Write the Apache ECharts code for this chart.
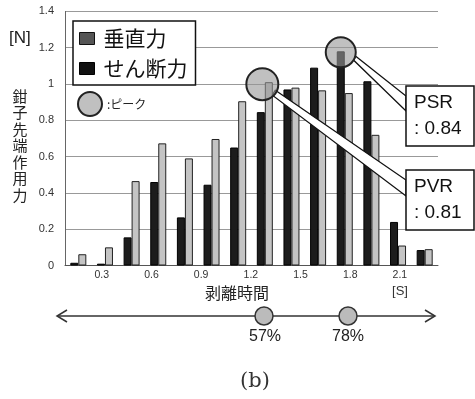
<!DOCTYPE html>
<html>
<head>
<meta charset="utf-8">
<script src="https://cdn.jsdelivr.net/npm/echarts@6/dist/echarts.min.js"></script>
<style>
  html, body { margin: 0; padding: 0; background: #fff; }
  #chart { width: 475px; height: 399px; }
</style>
</head>
<body>
<div id="chart"></div>
<script>
// Time bins (s) of the peeling phase
const bins = ['0.15','0.30','0.45','0.60','0.75','0.90','1.05','1.20','1.35','1.50','1.65','1.80','1.95','2.10'];
// Shear force (dark bars) [N]
const shearForce = [0.015, 0.01, 0.155, 0.46, 0.265, 0.445, 0.65, 0.845, 0.97, 1.09, 1.18, 1.015, 0.24, 0.085];
// Vertical force (light bars) [N]
const verticalForce = [0.062, 0.10, 0.465, 0.673, 0.59, 0.697, 0.905, 1.01, 0.98, 0.965, 0.95, 0.72, 0.11, 0.09];
// Time tick labels [s]
const timeTicks = [0.3, 0.6, 0.9, 1.2, 1.5, 1.8, 2.1];
// Peak ratios
const peakLabels = ['PSR\n: 0.84', 'PVR\n: 0.81'];
const peakPercents = ['57%', '78%'];

const JP = '"Noto Sans CJK JP", "Noto Sans", sans-serif';
const LAT = '"Liberation Sans", Arial, sans-serif';

const chart = echarts.init(document.getElementById('chart'), null, { renderer: 'canvas' });

chart.setOption({
  backgroundColor: '#fff',
  animation: false,
  grid: { left: 65, right: 37, top: 11.4, bottom: 133.5, containLabel: false },
  legend: {
    orient: 'vertical',
    left: 73, top: 21,
    backgroundColor: '#fff',
    borderColor: '#111', borderWidth: 1.5, borderRadius: 0,
    padding: [5, 8, 4, 6],
    itemGap: 5,
    itemWidth: 15, itemHeight: 12,
    icon: 'rect',
    textStyle: { fontFamily: JP, fontSize: 21, color: '#111', lineHeight: 25, padding: [0, 0, 0, 4] },
    data: [
      { name: '垂直力', itemStyle: { color: '#555', borderColor: '#111', borderWidth: 1 } },
      { name: 'せん断力', itemStyle: { color: '#111', borderColor: '#000', borderWidth: 1 } }
    ]
  },
  xAxis: [
    {
      type: 'category',
      data: bins,
      axisLine: { show: true, lineStyle: { color: '#555', width: 1 } },
      axisTick: { show: false },
      axisLabel: { show: false },
      splitLine: { show: false }
    },
    {
      type: 'value',
      position: 'bottom',
      min: 0.078, max: 2.33,
      axisLine: { show: false },
      axisTick: { show: false },
      splitLine: { show: false },
      axisLabel: {
        customValues: timeTicks,
        formatter: v => v.toFixed(1),
        fontFamily: LAT, fontSize: 10.5, color: '#333', margin: 4
      }
    }
  ],
  yAxis: {
    type: 'value',
    min: 0, max: 1.4, interval: 0.2,
    axisLine: { show: true, lineStyle: { color: '#666', width: 1 } },
    axisTick: { show: false },
    axisLabel: { fontFamily: LAT, fontSize: 11, color: '#333', margin: 11 },
    splitLine: { lineStyle: { color: '#999', width: 1 } }
  },
  series: [
    {
      name: 'せん断力', type: 'bar', xAxisIndex: 0,
      data: shearForce,
      barWidth: 8, barGap: '0%',
      itemStyle: { color: '#1c1c1c', borderColor: '#000', borderWidth: 1 }
    },
    {
      name: '垂直力', type: 'bar', xAxisIndex: 0,
      data: verticalForce,
      barWidth: 8, barGap: '0%',
      itemStyle: { color: '#c4c4c4', borderColor: '#222', borderWidth: 1 }
    }
  ]
});

// Peak markers positioned from the data
const argmax = arr => arr.reduce((b, v, i) => (v > arr[b] ? i : b), 0);
const iS = argmax(shearForce);
const iV = argmax(verticalForce);
const pS = chart.convertToPixel({ xAxisIndex: 0, yAxisIndex: 0 }, [iS, shearForce[iS]]);
const pV = chart.convertToPixel({ xAxisIndex: 0, yAxisIndex: 0 }, [iV, verticalForce[iV]]);
const cS = [pS[0] - 4, pS[1] + 1];
const cV = [pV[0] - 2.5, pV[1] + 2];

const circleStyle = { fill: 'rgba(150,150,150,0.6)', stroke: '#222', lineWidth: 2 };
const wedgeStyle = { fill: '#fff', stroke: '#111', lineWidth: 1.3 };
const boxStyle = { fill: '#fff', stroke: '#111', lineWidth: 1.5 };
const boxText = { fill: '#111', fontFamily: LAT, fontSize: 19, lineHeight: 26 };

const graphics = [
  // axis titles and units
  { type: 'text', left: 9, top: 30, style: { text: '[N]', fill: '#222', fontFamily: LAT, fontSize: 17 } },
  { type: 'text', x: 20, y: 88, style: { text: '鉗\n子\n先\n端\n作\n用\n力', fill: '#222', fontFamily: JP, fontSize: 15, lineHeight: 16.5, align: 'center', verticalAlign: 'top' } },
  { type: 'text', x: 237, y: 293, style: { text: '剥離時間', fill: '#222', fontFamily: JP, fontSize: 16, align: 'center', verticalAlign: 'middle' } },
  { type: 'text', x: 400, y: 291, style: { text: '[S]', fill: '#333', fontFamily: LAT, fontSize: 13, align: 'center', verticalAlign: 'middle' } },

  // peak legend entry
  { type: 'circle', shape: { cx: 90, cy: 104, r: 12 }, style: circleStyle },
  { type: 'text', x: 107, y: 104, style: { text: ':ピーク', fill: '#222', fontFamily: JP, fontSize: 12, verticalAlign: 'middle' } },

  // callout wedges
  { type: 'polygon', shape: { points: [[cS[0] + 15, cS[1] + 4], [406, 96], [406, 111], [cS[0] + 13, cS[1] + 8]] }, style: wedgeStyle, z: 10 },
  { type: 'polygon', shape: { points: [[cV[0] + 13, cV[1] + 6], [406, 180], [406, 196], [cV[0] + 10, cV[1] + 11]] }, style: wedgeStyle, z: 10 },

  // peak circles
  { type: 'circle', shape: { cx: cS[0], cy: cS[1], r: 15 }, style: circleStyle, z: 11 },
  { type: 'circle', shape: { cx: cV[0], cy: cV[1], r: 16 }, style: circleStyle, z: 11 },

  // callout boxes
  { type: 'rect', shape: { x: 406, y: 86, width: 68, height: 60 }, style: boxStyle, z: 12 },
  { type: 'text', x: 414, y: 116, style: Object.assign({ text: peakLabels[0], verticalAlign: 'middle' }, boxText), z: 13 },
  { type: 'rect', shape: { x: 406, y: 170, width: 68, height: 60 }, style: boxStyle, z: 12 },
  { type: 'text', x: 414, y: 200, style: Object.assign({ text: peakLabels[1], verticalAlign: 'middle' }, boxText), z: 13 },

  // timeline with double arrow
  { type: 'line', shape: { x1: 57, y1: 316, x2: 435, y2: 316 }, style: { stroke: '#333', lineWidth: 1.5 } },
  { type: 'polyline', shape: { points: [[67, 310], [57, 316], [67, 322]] }, style: { stroke: '#333', lineWidth: 1.5, fill: null } },
  { type: 'polyline', shape: { points: [[425, 310], [435, 316], [425, 322]] }, style: { stroke: '#333', lineWidth: 1.5, fill: null } },
  { type: 'circle', shape: { cx: 264, cy: 316, r: 9 }, style: { fill: '#bbb', stroke: '#333', lineWidth: 1.5 } },
  { type: 'circle', shape: { cx: 348, cy: 316, r: 9 }, style: { fill: '#bbb', stroke: '#333', lineWidth: 1.5 } },
  { type: 'text', x: 265, y: 337, style: { text: peakPercents[0], fill: '#222', fontFamily: LAT, fontSize: 16, align: 'center', verticalAlign: 'middle' } },
  { type: 'text', x: 348, y: 337, style: { text: peakPercents[1], fill: '#222', fontFamily: LAT, fontSize: 16, align: 'center', verticalAlign: 'middle' } },

  // panel label
  { type: 'text', x: 255, y: 382, style: { text: '(b)', fill: '#333', fontFamily: '"DejaVu Serif", serif', fontSize: 21, align: 'center', verticalAlign: 'middle' } }
];

chart.setOption({ graphic: graphics });
</script>
</body>
</html>
